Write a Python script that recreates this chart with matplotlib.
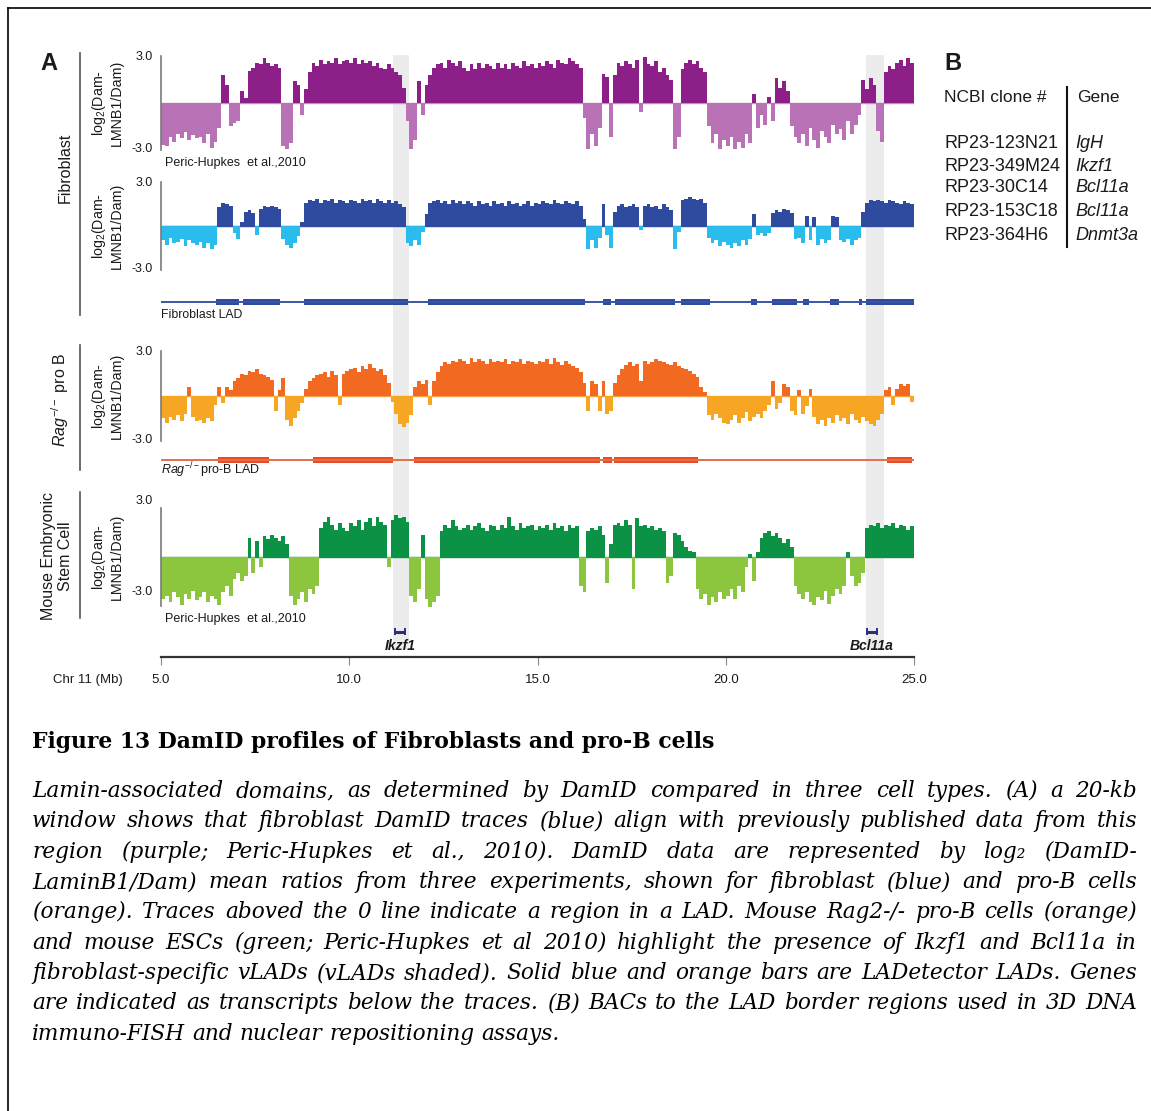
import numpy as np
import matplotlib
matplotlib.use('Agg')
import matplotlib.pyplot as plt
from matplotlib.lines import Line2D

plt.rcParams['mathtext.fontset'] = 'custom'
plt.rcParams['mathtext.rm'] = 'Liberation Sans'
plt.rcParams['mathtext.it'] = 'Liberation Sans:italic'
plt.rcParams['mathtext.bf'] = 'Liberation Sans:bold'
plt.rcParams['font.family'] = ['Liberation Sans', 'DejaVu Sans']

# ---------------- data ----------------
CHR_START, CHR_END, BIN_MB = 5.0, 25.0, 0.1

FIB_PUBLISHED = [
    -2.7, -2.8, -2.2, -2.5, -2.0, -2.3, -1.9, -2.4, -2.1, -2.3,
    -2.2, -2.6, -2.0, -2.9, -2.5, -1.6, 1.8, 1.2, -1.5, -1.3,
    -1.2, 0.8, 0.3, 2.1, 2.3, 2.6, 2.5, 2.9, 2.6, 2.4,
    2.5, 2.3, -2.8, -3.0, -2.6, 1.4, 1.2, -0.8, 0.9, 2.0,
    2.6, 2.4, 2.8, 2.5, 2.7, 2.6, 2.9, 2.5, 2.7, 2.8,
    2.6, 2.9, 2.5, 2.8, 2.6, 2.7, 2.4, 2.6, 2.3, 2.2,
    2.5, 2.3, 2.0, 1.8, 1.0, -1.2, -3.0, -2.4, 1.4, -0.8,
    1.2, 1.8, 2.3, 2.5, 2.6, 2.3, 2.8, 2.6, 2.4, 2.7,
    2.3, 2.1, 2.5, 2.2, 2.6, 2.3, 2.5, 2.4, 2.2, 2.6,
    2.3, 2.5, 2.2, 2.6, 2.4, 2.3, 2.7, 2.4, 2.5, 2.3,
    2.6, 2.4, 2.7, 2.5, 2.3, 2.8, 2.6, 2.5, 2.9, 2.7,
    2.5, 2.3, -1.0, -3.0, -2.0, -2.8, -1.6, 1.9, 1.7, -2.2,
    1.8, 2.6, 2.4, 2.7, 2.5, 2.3, 2.8, -0.6, 3.0, 2.5,
    2.4, 2.7, 2.0, 2.3, 1.8, 1.5, -3.0, -2.2, 2.2, 2.6,
    2.8, 2.5, 2.7, 2.3, 2.0, -1.5, -2.6, -2.0, -3.0, -2.4,
    -2.8, -2.2, -3.0, -2.5, -2.9, -2.0, -2.6, 0.6, -1.6, -0.8,
    -1.4, 0.4, -1.2, 1.6, 1.0, 1.4, 0.8, -1.5, -2.2, -2.6,
    -2.0, -2.8, -1.6, -2.4, -2.9, -1.8, -2.2, -2.6, -1.4, -2.0,
    -1.7, -2.4, -1.2, -2.0, -1.4, -0.8, 1.5, 0.9, 1.6, 1.2,
    -1.8, -2.5, 2.0, 2.4, 2.2, 2.6, 2.8, 2.4, 2.9, 2.6,
]

FIB_DAMID = [
    -1.0, -1.3, -0.8, -1.2, -1.1, -0.9, -1.4, -1.0, -1.2, -1.3,
    -1.1, -1.5, -1.2, -1.6, -1.3, 1.3, 1.6, 1.5, 1.4, -0.5,
    -0.9, 0.3, 1.0, 1.1, 0.9, -0.6, 1.2, 1.4, 1.3, 1.4,
    1.3, 1.2, -0.9, -1.3, -1.5, -1.2, -0.7, 0.3, 1.6, 1.8,
    1.7, 1.9, 1.6, 1.8, 1.7, 1.9, 1.6, 1.8, 1.7, 1.6,
    1.8, 1.7, 1.6, 1.9, 1.7, 1.8, 1.6, 1.9, 1.7, 1.6,
    1.8, 1.6, 1.7, 1.5, 1.3, -1.2, -1.4, -1.0, -1.3, -0.4,
    0.8, 1.6, 1.7, 1.8, 1.6, 1.7, 1.5, 1.8, 1.6, 1.7,
    1.5, 1.7, 1.6, 1.4, 1.7, 1.5, 1.6, 1.4, 1.7, 1.5,
    1.6, 1.4, 1.7, 1.5, 1.6, 1.4, 1.5, 1.7, 1.4, 1.6,
    1.5, 1.7, 1.6, 1.5, 1.8, 1.6, 1.5, 1.7, 1.6, 1.5,
    1.7, 1.4, 0.5, -1.6, -1.0, -1.5, -0.8, 1.5, -0.6, -1.5,
    1.0, 1.4, 1.5, 1.3, 1.4, 1.5, 1.3, -0.3, 1.4, 1.5,
    1.3, 1.4, 1.2, 1.5, 1.3, 1.1, -1.6, -0.4, 1.8, 1.9,
    2.0, 1.9, 1.8, 1.9, 1.6, -0.8, -1.2, -1.0, -1.4, -1.1,
    -1.3, -1.5, -1.2, -1.4, -1.0, -1.3, -0.9, 0.8, -0.6, -0.5,
    -0.7, -0.5, 0.9, 1.1, 1.0, 1.2, 1.1, 0.9, -0.9, -0.8,
    -1.2, 0.7, -1.0, 0.6, -1.3, -0.9, -1.2, -1.0, 0.7, 0.6,
    -1.0, -1.1, -0.9, -1.3, -1.0, -0.8, 1.0, 1.6, 1.8, 1.7,
    1.8, 1.7, 1.6, 1.8, 1.7, 1.6, 1.5, 1.7, 1.6, 1.5,
]

PROB_DAMID = [
    -1.5, -1.8, -1.4, -1.6, -1.3, -1.7, -1.2, 0.6, -1.4, -1.7,
    -1.6, -1.8, -1.5, -1.7, -0.6, 0.6, -0.5, 0.6, 0.4, 1.0,
    1.2, 1.5, 1.4, 1.7, 1.6, 1.8, 1.5, 1.4, 1.3, 1.1,
    -1.0, 0.4, 1.2, -1.6, -2.0, -1.5, -1.0, -0.5, 0.5, 1.0,
    1.2, 1.4, 1.5, 1.6, 1.3, 1.7, 1.4, -0.6, 1.5, 1.7,
    1.8, 1.9, 1.6, 2.0, 1.8, 2.2, 1.9, 1.7, 1.8, 1.4,
    0.9, -0.4, -1.2, -1.9, -2.1, -1.8, -1.3, 0.6, 1.0, 0.8,
    1.1, -0.6, 1.0, 1.6, 2.0, 2.3, 2.2, 2.4, 2.3, 2.5,
    2.4, 2.2, 2.6, 2.3, 2.5, 2.4, 2.2, 2.5, 2.3, 2.4,
    2.3, 2.5, 2.2, 2.4, 2.3, 2.5, 2.2, 2.4, 2.3, 2.2,
    2.4, 2.3, 2.5, 2.2, 2.6, 2.3, 2.1, 2.4, 2.2, 2.0,
    1.9, 1.6, 0.9, -1.0, 1.0, 0.8, -1.0, 1.0, -1.2, -1.0,
    0.9, 1.4, 1.8, 2.1, 2.3, 2.0, 2.2, 1.0, 2.4, 2.2,
    2.3, 2.5, 2.4, 2.3, 2.2, 2.1, 2.3, 2.0, 1.9, 1.8,
    1.7, 1.5, 1.3, 0.6, 0.3, -1.3, -1.6, -1.2, -1.5, -1.8,
    -1.9, -1.6, -1.3, -1.8, -1.5, -1.1, -1.7, -1.4, -1.2, -1.5,
    -1.0, -0.6, 1.0, -0.9, -0.5, 0.8, 0.6, -1.0, -1.3, 0.4,
    -1.2, -0.7, 0.5, -1.4, -1.9, -1.6, -2.0, -1.5, -1.8, -1.3,
    -1.7, -1.5, -1.9, -1.2, -1.6, -1.8, -1.4, -1.7, -1.9, -2.0,
    -1.6, -1.2, 0.4, 0.6, -0.6, 0.5, 0.8, 0.7, 0.8, -0.4,
]

ESC_PUBLISHED = [
    -2.6, -2.4, -2.8, -2.2, -2.5, -3.0, -2.3, -2.6, -2.1, -2.7,
    -2.5, -2.2, -2.8, -2.4, -2.6, -3.0, -2.2, -1.8, -2.4, -1.4,
    -1.0, -1.5, -1.2, 1.2, -1.0, 1.0, -0.6, 1.3, 1.1, 1.4,
    1.2, 1.0, 1.3, 0.8, -2.4, -3.0, -2.6, -2.2, -2.8, -2.0,
    -2.3, -1.8, 1.8, 2.2, 2.5, 2.0, 1.7, 2.1, 1.8, 1.6,
    2.1, 1.9, 2.3, 1.7, 2.2, 2.4, 1.9, 2.5, 2.2, 2.0,
    -0.6, 2.3, 2.6, 2.4, 2.5, 2.2, -2.4, -2.8, -2.0, 1.4,
    -2.6, -3.1, -2.8, -2.4, 1.6, 2.0, 1.8, 2.3, 1.9, 1.7,
    1.8, 2.0, 1.7, 1.9, 2.1, 1.8, 1.6, 2.0, 1.9, 1.7,
    2.0, 1.8, 2.5, 1.9, 1.7, 2.1, 1.8, 1.9, 2.0, 1.7,
    1.9, 1.8, 2.0, 1.7, 2.1, 1.8, 1.9, 1.6, 2.0, 1.8,
    1.9, -1.8, -2.2, 1.6, 1.8, 1.7, 1.9, 1.4, -1.6, 0.8,
    2.0, 2.1, 1.9, 2.3, 2.0, -2.0, 2.4, 1.9, 2.0, 1.8,
    1.9, 1.7, 1.8, 1.6, -1.6, -1.2, 1.5, 1.4, 1.0, 0.6,
    0.4, 0.3, -2.0, -2.6, -2.3, -3.0, -2.5, -2.8, -2.2, -2.6,
    -2.4, -2.0, -2.6, -1.8, -2.2, -0.6, 0.2, -1.5, 0.3, 1.2,
    1.5, 1.6, 1.3, 1.5, 1.2, 0.9, 1.1, 0.6, -1.8, -2.3,
    -2.6, -2.2, -2.8, -3.0, -2.5, -2.7, -2.1, -2.9, -2.4, -2.0,
    -2.3, -1.8, 0.3, -1.2, -1.8, -1.6, -1.0, 1.8, 2.0, 1.9,
    2.1, 1.8, 2.0, 1.9, 2.1, 1.8, 2.0, 1.9, 1.7, 1.9,
]

FIB_LAD = [(6.47, 7.06), (7.17, 8.17), (8.80, 11.56), (12.08, 16.26), (16.74, 16.96),
           (17.07, 18.65), (18.80, 19.59), (20.67, 20.82), (21.22, 21.90), (22.06, 22.20),
           (22.78, 23.00), (23.54, 23.63), (23.72, 25.00)]
PROB_LAD = [(6.51, 7.87), (9.04, 11.17), (11.73, 16.65), (16.74, 16.98), (17.04, 19.26),
            (24.28, 24.94)]
VLAD_SHADED = [(11.17, 11.58), (23.72, 24.20)]
GENES = [("Ikzf1", 11.22, 11.47), ("Bcl11a", 23.75, 24.02)]
X_TICKS = [5.0, 10.0, 15.0, 20.0, 25.0]

CLONES = ["RP23-123N21", "RP23-349M24", "RP23-30C14", "RP23-153C18", "RP23-364H6"]
CLONE_GENES = ["IgH", "Ikzf1", "Bcl11a", "Bcl11a", "Dnmt3a"]

TITLE = "Figure 13 DamID profiles of Fibroblasts and pro-B cells"
CAPTION = [
    "Lamin-associated domains, as determined by DamID compared in three cell types. (A) a 20-kb",
    "window shows that fibroblast DamID traces (blue) align with previously published data from this",
    "region (purple; Peric-Hupkes et al., 2010). DamID data are represented by log\u2082 (DamID-",
    "LaminB1/Dam) mean ratios from three experiments, shown for fibroblast (blue) and pro-B cells",
    "(orange). Traces aboved the 0 line indicate a region in a LAD. Mouse Rag2-/- pro-B cells (orange)",
    "and mouse ESCs (green; Peric-Hupkes et al 2010) highlight the presence of Ikzf1 and Bcl11a in",
    "fibroblast-specific vLADs (vLADs shaded). Solid blue and orange bars are LADetector LADs. Genes",
    "are indicated as transcripts below the traces. (B) BACs to the LAD border regions used in 3D DNA",
    "immuno-FISH and nuclear repositioning assays.",
]

# ---------------- layout helpers ----------------
W, H = 1151, 1111
fig = plt.figure(figsize=(W / 100, H / 100), dpi=100)
fig.patch.set_facecolor('white')

X0, X1 = 161, 914
TXT = '#1a1a1a'
NARROW = ['Liberation Sans Narrow', 'Liberation Sans', 'DejaVu Sans']


def add_ax(x0, y0, x1, y1, z=1):
    ax = fig.add_axes([x0 / W, 1 - y1 / H, (x1 - x0) / W, (y1 - y0) / H])
    ax.set_zorder(z)
    ax.patch.set_alpha(0)
    return ax


def ftext(x, y, s, **kw):
    kw.setdefault('color', TXT)
    return fig.text(x / W, 1 - y / H, s, **kw)


bin_left = np.arange(len(FIB_PUBLISHED)) * BIN_MB + CHR_START

# background shading for vLADs
bg = add_ax(X0, 55, X1, 650, z=0)
bg.set_xlim(CHR_START, CHR_END)
bg.set_ylim(0, 1)
bg.axis('off')
for s, e in VLAD_SHADED:
    bg.axvspan(s, e, color='#ececec', lw=0)

tracks = [
    dict(vals=FIB_PUBLISHED, pos='#8d1f88', neg='#b872b5', base='#c48ec2', y0=56, y1=150,
         lab=((3.0, '3.0'), (-3.0, '-3.0'))),
    dict(vals=FIB_DAMID, pos='#2e4b9f', neg='#2bbcee', base='#2e4b9f', y0=182, y1=270,
         lab=((3.0, '3.0'), (-3.0, '-3.0'))),
    dict(vals=PROB_DAMID, pos='#f26a21', neg='#f7a623', base='#f7a04a', y0=351, y1=441,
         lab=((3.0, '3.0'), (-3.0, '-3.0'))),
    dict(vals=ESC_PUBLISHED, pos='#0c9245', neg='#8cc63f', base='#0c9245', y0=508, y1=606,
         lab=((3.5, '3.0'), (-2.15, '-3.0'))),
]

for tr in tracks:
    ax = add_ax(X0, tr['y0'], X1, tr['y1'], z=2)
    v = np.array(tr['vals'], dtype=float)
    xe = np.append(bin_left, CHR_END)
    ye = np.append(v, v[-1])
    ax.fill_between(xe, 0, np.maximum(ye, 0), step='post', color=tr['pos'], lw=0)
    ax.fill_between(xe, 0, np.minimum(ye, 0), step='post', color=tr['neg'], lw=0)
    ax.axhline(0, color=tr['base'], lw=1.0, zorder=0.5)
    ax.set_xlim(CHR_START, CHR_END)
    ax.set_ylim(-3.05, 3.05)
    for sp in ['top', 'right', 'bottom']:
        ax.spines[sp].set_visible(False)
    ax.spines['left'].set_color('#7a7a7a')
    ax.spines['left'].set_linewidth(1.2)
    ax.set_xticks([])
    ax.set_yticks([])
    for yv, s in tr['lab']:
        ax.text(-0.011, yv, s, transform=ax.get_yaxis_transform(), ha='right', va='center',
                fontsize=9, family=NARROW, color=TXT)
    ymid = (tr['y0'] + tr['y1']) / 2
    ftext(107, ymid, "log$_2$(Dam-\nLMNB1/Dam)", rotation=90, ha='center', va='center',
          fontsize=10.3, linespacing=1.12, multialignment='center')


def lad_axis(yc, segs, thick_col, thin_col):
    ax = add_ax(X0, yc - 6, X1, yc + 6, z=2)
    ax.set_xlim(CHR_START, CHR_END)
    ax.set_ylim(-1, 1)
    ax.axis('off')
    ax.axhline(0, color=thin_col, lw=1.4)
    ax.broken_barh([(s, e - s) for s, e in segs], (-0.5, 1.0), facecolors=thick_col, lw=0)


lad_axis(302, FIB_LAD, '#2e4b9f', '#3a55a5')
lad_axis(460, PROB_LAD, '#ee4a22', '#e0704e')

# gene + x axis
gx = add_ax(X0, 622, X1, 657, z=2)
gx.set_xlim(CHR_START, CHR_END)
gx.set_ylim(0, 1)
for sp in ['top', 'right', 'left']:
    gx.spines[sp].set_visible(False)
gx.spines['bottom'].set_color('#333333')
gx.spines['bottom'].set_linewidth(1.6)
gx.set_yticks([])
gx.set_xticks(X_TICKS)
gx.set_xticklabels([f"{t:.1f}" for t in X_TICKS], fontsize=9.5, family=NARROW, color=TXT)
gx.tick_params(axis='x', direction='out', length=6, width=0.8, color='#888888', pad=6)
for name, s, e in GENES:
    gx.plot([s, e], [0.72, 0.72], color='#2b2f7a', lw=2.2, solid_capstyle='butt')
    gx.vlines([s, e], 0.62, 0.82, color='#2b2f7a', lw=1.4)
    gx.text((s + e) / 2, 0.30, name, ha='center', va='center', fontsize=10,
            fontweight='bold', style='italic', color=TXT)

ftext(88, 680, "Chr 11 (Mb)", ha='center', va='center', fontsize=9.5, family=NARROW)

# track annotations
ftext(165, 163, "Peric-Hupkes  et al.,2010", ha='left', va='center', fontsize=9, family=NARROW)
ftext(165, 619, "Peric-Hupkes  et al.,2010", ha='left', va='center', fontsize=9, family=NARROW)
ftext(161, 315, "Fibroblast LAD", ha='left', va='center', fontsize=8.8, family=NARROW)
ftext(161, 470, r"$\mathit{Rag}^{-/-}$pro-B LAD", ha='left', va='center', fontsize=9)

# group labels and brackets
for ya, yb in [(53, 315), (345, 470), (492, 618)]:
    fig.add_artist(Line2D([80 / W, 80 / W], [1 - ya / H, 1 - yb / H], color='#555555', lw=1.2))
ftext(65, 168, "Fibroblast", rotation=90, ha='center', va='center', fontsize=11.5)
ftext(60, 400, r"$\mathit{Rag}^{-/-}$ pro B", rotation=90, ha='center', va='center', fontsize=11.5)
ftext(57, 556, "Mouse Embryonic\nStem Cell", rotation=90, ha='center', va='center', fontsize=11.5,
      linespacing=1.12, multialignment='center')

ftext(49, 63, "A", ha='center', va='center', fontsize=17, fontweight='bold')
ftext(953, 63, "B", ha='center', va='center', fontsize=17, fontweight='bold')

# panel B table
ftext(944, 97, "NCBI clone #", ha='left', va='center', fontsize=12.5)
ftext(1077, 97, "Gene", ha='left', va='center', fontsize=12.5)
fig.add_artist(Line2D([1067 / W, 1067 / W], [1 - 87 / H, 1 - 247 / H], color='#111111', lw=1.5))
row_y = [143, 166, 188, 211, 236]
for yy, c, g in zip(row_y, CLONES, CLONE_GENES):
    ftext(944, yy, c, ha='left', va='center', fontsize=13)
    ftext(1075, yy, g, ha='left', va='center', fontsize=13, style='italic')

# frame
fig.add_artist(Line2D([8 / W, 1.0], [1 - 8 / H, 1 - 8 / H], color='black', lw=1.2))
fig.add_artist(Line2D([8 / W, 8 / W], [1 - 8 / H, 0.0], color='black', lw=1.2))

# caption
renderer = fig.canvas.get_renderer()
SERIF = ['DejaVu Serif', 'DejaVu Sans']


def text_w(s, **kw):
    t = fig.text(0, 0, s, **kw)
    w = t.get_window_extent(renderer).width
    t.remove()
    return w


tw = text_w(TITLE, fontsize=10, family=SERIF, fontweight='bold')
ftext(32, 748, TITLE, fontsize=10 * 686 / tw, family=SERIF, fontweight='bold',
      ha='left', va='baseline', color='black')

ckw = dict(family=SERIF, style='italic')
nat = max(text_w(l, fontsize=10, **ckw) for l in CAPTION)
cfs = 10 * (1105 * 0.985) / nat
space_w = text_w('a a', fontsize=cfs, **ckw) - 2 * text_w('a', fontsize=cfs, **ckw)
for i, line in enumerate(CAPTION):
    yb = 797 + 30.35 * i
    words = line.split(' ')
    ws = [text_w(w, fontsize=cfs, **ckw) for w in words]
    if i < len(CAPTION) - 1:
        gap = (1105 - sum(ws)) / (len(words) - 1)
    else:
        gap = space_w
    x = 32
    for w, wd in zip(words, ws):
        ftext(x, yb, w, fontsize=cfs, ha='left', va='baseline', color='black', **ckw)
        x += wd + gap

fig.savefig('out.png', dpi=100)
